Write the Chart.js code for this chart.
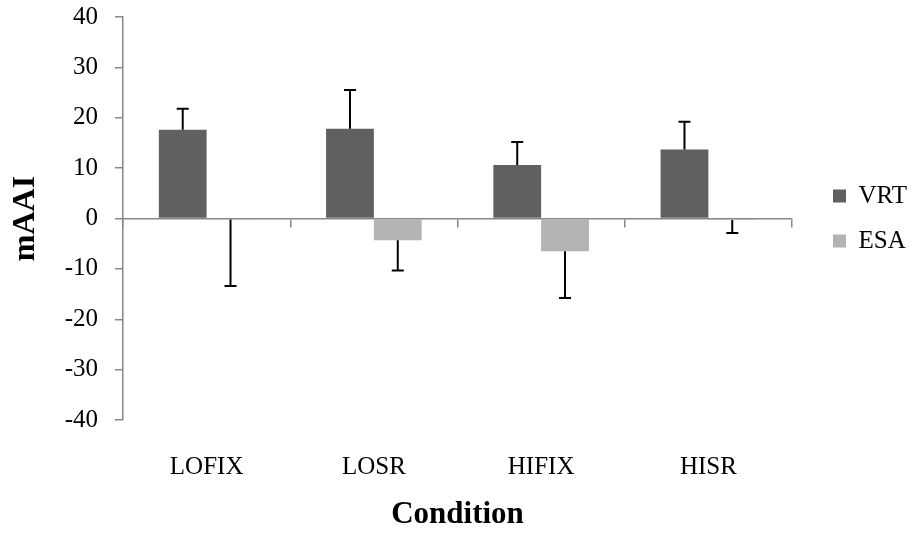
<!DOCTYPE html>
<html>
<head>
<meta charset="utf-8">
<script src="https://cdn.jsdelivr.net/npm/chart.js@4.4.1/dist/chart.umd.min.js"></script>
<style>
  html, body { margin: 0; padding: 0; background: #ffffff; }
  canvas { display: block; }
</style>
</head>
<body>
<canvas id="chart" width="913" height="533"></canvas>
<script>
// Mean mAAI per condition, with one-sided error bars (SE)
const categories = ['LOFIX', 'LOSR', 'HIFIX', 'HISR'];
const vrtMeans   = [17.6, 17.8, 10.6, 13.7];
const vrtErrors  = [4.2, 7.7, 4.6, 5.5];
const esaMeans   = [-0.2, -4.3, -6.5, -0.3];
const esaErrors  = [13.2, 6.0, 9.3, 2.6];
const yTickValues = [-40, -30, -20, -10, 0, 10, 20, 30, 40];

const AXIS_GREY = '#878787';
const SERIF = "'Liberation Serif', 'Times New Roman', serif";

// Draws each error bar away from zero, with a short cap at its end
const errorBars = {
  id: 'errorBars',
  afterDatasetsDraw(chart) {
    const ctx = chart.ctx;
    const yScale = chart.scales.y;
    chart.data.datasets.forEach((ds, di) => {
      const meta = chart.getDatasetMeta(di);
      meta.data.forEach((bar, i) => {
        const v = ds.data[i];
        const e = ds.errors[i];
        const end = v >= 0 ? v + e : v - e;
        const yStart = yScale.getPixelForValue(v);
        const yEnd = yScale.getPixelForValue(end);
        ctx.save();
        ctx.strokeStyle = '#000000';
        ctx.lineWidth = 2;
        ctx.beginPath();
        ctx.moveTo(bar.x, yStart);
        ctx.lineTo(bar.x, yEnd);
        ctx.moveTo(bar.x - 6, yEnd);
        ctx.lineTo(bar.x + 6, yEnd);
        ctx.stroke();
        ctx.restore();
      });
    });
  }
};

new Chart(document.getElementById('chart'), {
  type: 'bar',
  data: {
    labels: categories,
    datasets: [
      { label: 'VRT', data: vrtMeans, errors: vrtErrors, backgroundColor: '#606060',
        categoryPercentage: 0.5714, barPercentage: 1.0 },
      { label: 'ESA', data: esaMeans, errors: esaErrors, backgroundColor: '#b3b3b3',
        categoryPercentage: 0.5714, barPercentage: 1.0 }
    ]
  },
  options: {
    responsive: false,
    animation: false,
    devicePixelRatio: 1,
    layout: { padding: { top: 17, right: 0, left: 0, bottom: 0 } },
    plugins: {
      tooltip: { enabled: false },
      legend: {
        position: 'right',
        fullSize: false,
        align: 'center',
        maxWidth: 100,
        labels: {
          boxWidth: 13,
          boxHeight: 13,
          padding: 20,
          color: '#000000',
          font: { family: SERIF, size: 25 }
        }
      }
    },
    scales: {
      x: {
        type: 'category',
        position: { y: 0 },
        offset: true,
        z: 1,
        grid: {
          display: true,
          offset: true,
          drawOnChartArea: false,
          drawTicks: true,
          tickLength: 8,
          color: AXIS_GREY,
          lineWidth: 1.5
        },
        border: { display: true, color: AXIS_GREY, width: 1.5 },
        ticks: { display: false }
      },
      xl: {
        type: 'category',
        position: 'bottom',
        offset: true,
        grid: { display: false, drawTicks: false, tickLength: 0 },
        border: { display: false },
        ticks: {
          padding: 32,
          color: '#000000',
          font: { family: SERIF, size: 25 },
          maxRotation: 0
        },
        title: {
          display: true,
          text: 'Condition',
          color: '#000000',
          font: { family: SERIF, size: 31, weight: 'bold', lineHeight: 1 },
          padding: { top: 0, bottom: 3 }
        },
        afterFit(scale) { scale.height = 113; }
      },
      y: {
        type: 'linear',
        min: -40,
        max: 40,
        afterBuildTicks(scale) { scale.ticks = yTickValues.map(v => ({ value: v })); },
        grid: {
          display: true,
          drawOnChartArea: false,
          drawTicks: true,
          tickLength: 8,
          color: AXIS_GREY,
          lineWidth: 1.5
        },
        border: { display: true, color: AXIS_GREY, width: 1.5 },
        ticks: {
          padding: 17,
          color: '#000000',
          font: { family: SERIF, size: 25 }
        },
        title: {
          display: true,
          text: 'mAAI',
          color: '#000000',
          font: { family: SERIF, size: 32, weight: 'bold', lineHeight: 1 },
          padding: { top: 10, bottom: 0 }
        },
        afterFit(scale) {
          scale.width = 123;
          scale.paddingTop = 0;
          scale.paddingBottom = 0;
        }
      },
      // empty right-hand axis: only leaves a gap between the plot and the legend
      yGap: {
        type: 'linear',
        axis: 'y',
        position: 'right',
        grid: { display: false, drawTicks: false },
        border: { display: false },
        ticks: { display: false },
        afterFit(scale) {
          scale.width = 21;
          scale.paddingTop = 0;
          scale.paddingBottom = 0;
        }
      }
    }
  },
  plugins: [errorBars]
});
</script>
</body>
</html>
